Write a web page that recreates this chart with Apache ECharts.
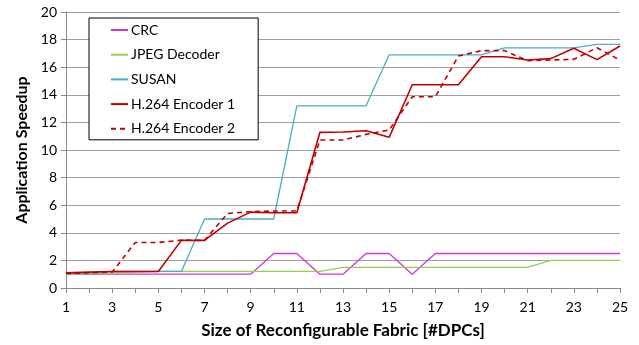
<!DOCTYPE html>
<html>
<head>
<meta charset="utf-8">
<script src="https://cdn.jsdelivr.net/npm/echarts@6/dist/echarts.min.js"></script>
<style>
  html, body { margin: 0; padding: 0; background: #fff; }
  #chart { width: 639px; height: 345px; }
</style>
</head>
<body>
<div id="chart"></div>
<script>
// x categories: size of fabric, 1..25 DPCs
var sizes = ['1','2','3','4','5','6','7','8','9','10','11','12','13','14','15','16','17','18','19','20','21','22','23','24','25'];

var crc     = [1.0, 1.0, 1.0, 1.0, 1.0, 1.0, 1.0, 1.0, 1.0, 2.5, 2.5, 1.0, 1.0, 2.5, 2.5, 1.0, 2.5, 2.5, 2.5, 2.5, 2.5, 2.5, 2.5, 2.5, 2.5];
var jpeg    = [1.0, 1.05, 1.1, 1.15, 1.2, 1.2, 1.2, 1.2, 1.2, 1.2, 1.2, 1.2, 1.5, 1.5, 1.5, 1.5, 1.5, 1.5, 1.5, 1.5, 1.5, 2.0, 2.0, 2.0, 2.0];
var susan   = [1.0, 1.1, 1.2, 1.2, 1.2, 1.2, 5.0, 5.0, 5.0, 5.0, 13.2, 13.2, 13.2, 13.2, 16.9, 16.9, 16.9, 16.9, 16.9, 17.4, 17.4, 17.4, 17.4, 17.65, 17.65];
var h264a   = [1.1, 1.15, 1.2, 1.2, 1.2, 3.45, 3.45, 4.7, 5.5, 5.45, 5.45, 11.28, 11.3, 11.4, 10.92, 14.73, 14.73, 14.73, 16.76, 16.76, 16.52, 16.62, 17.37, 16.55, 17.54];
var h264b   = [1.05, 1.1, 1.15, 3.3, 3.3, 3.47, 3.45, 5.4, 5.53, 5.58, 5.58, 10.72, 10.72, 11.13, 11.45, 13.86, 13.86, 16.81, 17.2, 17.2, 16.47, 16.52, 16.57, 17.41, 16.52];

var chart = echarts.init(document.getElementById('chart'));

function line(name, data, color, width, dash) {
  return {
    name: name,
    type: 'line',
    data: data,
    symbol: 'none',
    showSymbol: false,
    lineStyle: { color: color, width: width, type: dash ? [5, 4] : 'solid' },
    itemStyle: { color: color },
    animation: false
  };
}

var option = {
  animation: false,
  textStyle: { fontFamily: 'Lato' },
  grid: { left: 66, right: 19, top: 12, bottom: 57 },
  legend: {
    orient: 'vertical',
    left: 89,
    top: 18,
    padding: [5, 23, 4, 21],
    itemWidth: 17,
    itemHeight: 14,
    itemGap: 10.7,
    backgroundColor: '#fff',
    borderColor: '#000',
    borderWidth: 1,
    itemStyle: { opacity: 0 },
    textStyle: { fontSize: 14, color: '#000', fontFamily: 'Lato', padding: [0, 0, 0, -2] }
  },
  xAxis: {
    type: 'category',
    data: sizes,
    boundaryGap: false,
    name: 'Size of Reconfigurable Fabric [#DPCs]',
    nameLocation: 'middle',
    nameGap: 34,
    nameTextStyle: { fontSize: 17, fontWeight: 'bold', color: '#000' },
    axisLine: { lineStyle: { color: '#888' } },
    axisTick: { show: true, interval: 0, length: 5, lineStyle: { color: '#888' } },
    axisLabel: { interval: 1, fontSize: 14, color: '#000', margin: 12 },
    splitLine: { show: false }
  },
  yAxis: {
    type: 'value',
    min: 0,
    max: 20,
    interval: 2,
    name: 'Application Speedup',
    nameLocation: 'middle',
    nameGap: 35,
    nameTextStyle: { fontSize: 16, fontWeight: 'bold', color: '#000' },
    axisLine: { show: true, lineStyle: { color: '#888' } },
    axisTick: { show: true, length: 5, lineStyle: { color: '#888' } },
    axisLabel: { fontSize: 14, color: '#000', margin: 9 },
    splitLine: { lineStyle: { color: '#a0a0a0', width: 1 } }
  },
  series: [
    line('CRC', crc, '#d633d6', 1.3, false),
    line('JPEG Decoder', jpeg, '#92d050', 1.3, false),
    line('SUSAN', susan, '#4bacc6', 1.3, false),
    line('H.264 Encoder 1', h264a, '#c00000', 1.6, false),
    line('H.264 Encoder 2', h264b, '#c00000', 1.6, true)
  ]
};

chart.setOption(option);
</script>
</body>
</html>
